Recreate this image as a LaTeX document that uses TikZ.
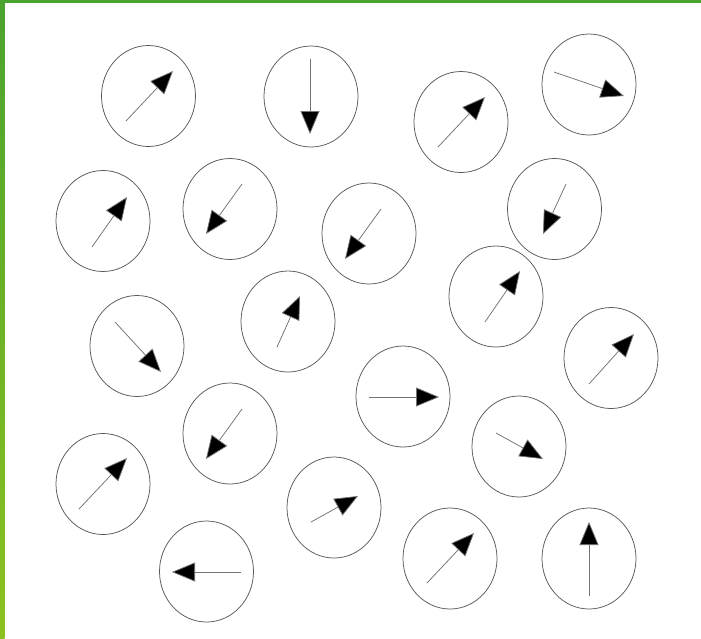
\documentclass[tikz,border=0pt]{standalone}
\usetikzlibrary{arrows.meta,shapes.geometric}
\definecolor{bordertop}{HTML}{4AA32E}
\definecolor{borderbot}{HTML}{8CC21F}
\tikzset{
  cell/.style={ellipse, draw=black!65, line width=0.75pt, minimum width=94pt, minimum height=101pt, inner sep=0pt},
  spin/.style={draw=black!55, line width=0.75pt, -{Triangle[length=23pt,width=19pt,fill=black]}}
}
\begin{document}
\begin{tikzpicture}[x=1pt,y=-1pt]
\useasboundingbox (0,0) rectangle (701,638);
\fill[white] (0,0) rectangle (701,638);
\fill[bordertop] (0,0) rectangle (701,2.5);
\shade[top color=bordertop, bottom color=borderbot] (0,0) rectangle (4.5,638);
\foreach \n/\cx/\cy/\ax/\ay/\bx/\by in {
  1/148.5/96/126/121/173/71,
  2/311/96.5/310/59/310/134,
  3/461/122/438/147/485/97,
  4/589/84.5/554/72/624/96,
  5/103/221/92/247/127/197,
  6/230/209/242/184/206/234,
  7/369/233.5/381/209/345/259,
  8/554.5/209/566/184/543/234,
  9/496/296.5/485/322/520/271,
  10/137/346/115/322/161/372,
  11/288/321.5/277/347/300/296,
  12/611/358/589/384/634/334,
  13/403/396.5/369/397/439/397,
  14/230/433.5/242/409/206/459,
  15/519/446.5/496/433/543/459,
  16/103/484/79/509/127/458,
  17/334/507.5/311/522/358/496,
  18/206.5/571.5/241/572/172/572,
  19/450/558.5/427/583/474/533,
  20/589/558.5/589/596/589/522}{
  \node[cell] (c\n) at (\cx,\cy) {};
  \coordinate (s\n) at (\ax,\ay);
  \coordinate (t\n) at (\bx,\by);
  \draw[spin] (s\n) -- (t\n);
}
\end{tikzpicture}
\end{document}
